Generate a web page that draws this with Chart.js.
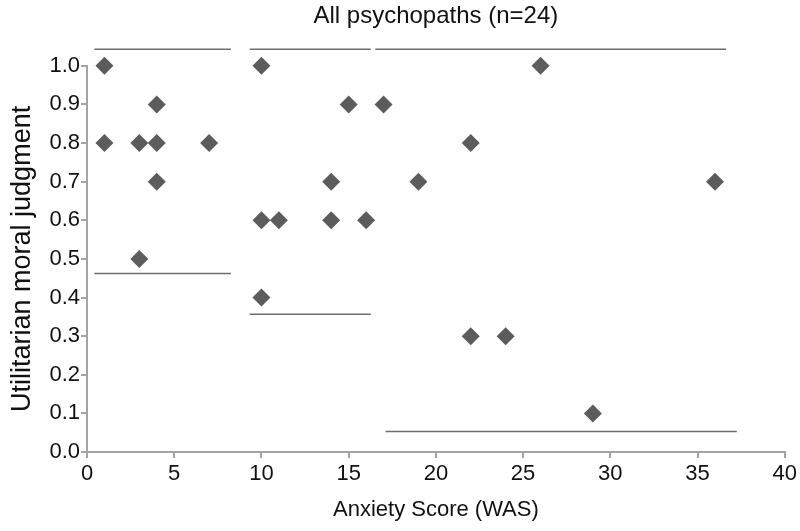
<!DOCTYPE html>
<html>
<head>
<meta charset="utf-8">
<script src="https://cdn.jsdelivr.net/npm/chart.js@4/dist/chart.umd.min.js"></script>
<style>
  html, body { margin: 0; padding: 0; background: #fff; }
  #wrap { width: 800px; height: 531px; }
</style>
</head>
<body>
<div id="wrap"><canvas id="chart" width="800" height="531"></canvas></div>
<script>
// Anxiety score vs utilitarian judgment, one entry per participant
const anxietyScores = [1, 1, 3, 4, 4, 4, 7, 3,
                       10, 10, 11, 14, 14, 15, 16, 10,
                       17, 22, 19, 26, 36, 22, 24, 29];
const judgments = [1.0, 0.8, 0.8, 0.9, 0.8, 0.7, 0.8, 0.5,
                   1.0, 0.6, 0.6, 0.7, 0.6, 0.9, 0.6, 0.4,
                   0.9, 0.8, 0.7, 1.0, 0.7, 0.3, 0.3, 0.1];

// Group bracket lines (above and below each cluster)
const upperStartX = [0.42, 9.33, 16.53];
const upperEndX = [8.25, 16.27, 36.64];
const upperY = [1.043, 1.043, 1.043];
const lowerStartX = [0.42, 9.33, 17.12];
const lowerEndX = [8.25, 16.27, 37.25];
const lowerY = [0.462, 0.357, 0.053];

const xTicks = [0, 5, 10, 15, 20, 25, 30, 35, 40];
const yTicks = [0, 0.1, 0.2, 0.3, 0.4, 0.5, 0.6, 0.7, 0.8, 0.9, 1.0];

const FONT = "'Liberation Sans', Arial, sans-serif";
const AXIS_GREY = '#a3a3a3';
const LINE_GREY = '#6e6e6e';

const points = anxietyScores.map((x, i) => ({ x: x, y: judgments[i] }));

function bracket(x0, x1, y) {
    return {
        type: 'line',
        data: [{ x: x0, y: y }, { x: x1, y: y }],
        borderColor: LINE_GREY,
        borderWidth: 1.5,
        pointRadius: 0,
        pointHoverRadius: 0,
        fill: false,
        clip: false
    };
}

const datasets = [{
    type: 'scatter',
    label: 'Participants',
    data: points,
    pointStyle: 'rectRot',
    pointRadius: 9,
    pointHoverRadius: 9,
    pointBorderWidth: 0,
    backgroundColor: '#5c5c5c',
    borderColor: '#5c5c5c',
    clip: false
}];
upperStartX.forEach((x0, i) => datasets.push(bracket(x0, upperEndX[i], upperY[i])));
lowerStartX.forEach((x0, i) => datasets.push(bracket(x0, lowerEndX[i], lowerY[i])));

new Chart(document.getElementById('chart').getContext('2d'), {
    type: 'scatter',
    data: { datasets: datasets },
    options: {
        responsive: false,
        animation: false,
        layout: { padding: { left: 0, right: 14, top: 0, bottom: 0 } },
        plugins: {
            legend: { display: false },
            tooltip: { enabled: false },
            title: {
                display: true,
                text: 'All psychopaths (n=24)',
                color: '#111',
                fullSize: false,
                font: { family: FONT, size: 24, weight: 'normal', lineHeight: 1.2 },
                padding: { top: 2, bottom: 35 }
            }
        },
        scales: {
            x: {
                type: 'linear',
                min: 0,
                max: 40,
                afterBuildTicks: (scale) => { scale.ticks = xTicks.map(v => ({ value: v })); },
                afterFit: (scale) => { scale.height = 79; },
                border: { display: true, color: AXIS_GREY, width: 2 },
                grid: { drawOnChartArea: false, drawTicks: true, tickLength: 6, color: AXIS_GREY, lineWidth: 2 },
                ticks: {
                    color: '#111',
                    padding: 3,
                    font: { family: FONT, size: 22 },
                    callback: (v) => String(v)
                },
                title: {
                    display: true,
                    text: 'Anxiety Score (WAS)',
                    color: '#111',
                    font: { family: FONT, size: 22 },
                    padding: { top: 0, bottom: 8 }
                }
            },
            y: {
                type: 'linear',
                min: 0,
                max: 1.0,
                afterBuildTicks: (scale) => { scale.ticks = yTicks.map(v => ({ value: v })); },
                afterFit: (scale) => { scale.width = 87; },
                border: { display: true, color: AXIS_GREY, width: 2 },
                grid: { drawOnChartArea: false, drawTicks: true, tickLength: 6, color: AXIS_GREY, lineWidth: 2 },
                ticks: {
                    color: '#111',
                    padding: 1,
                    font: { family: FONT, size: 22 },
                    callback: (v) => v.toFixed(1)
                },
                title: {
                    display: true,
                    text: 'Utilitarian moral judgment',
                    color: '#111',
                    font: { family: FONT, size: 27 },
                    padding: { top: 6, bottom: 0 }
                }
            }
        }
    }
});
</script>
</body>
</html>
